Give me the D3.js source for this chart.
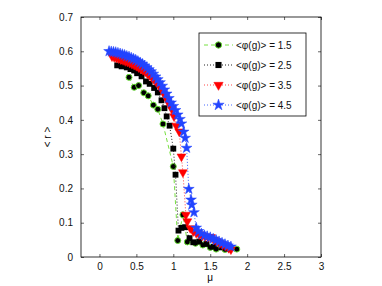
<!DOCTYPE html>
<html><head><meta charset="utf-8">
<script src="https://cdn.jsdelivr.net/npm/d3@7"></script>
<style>
body{margin:0;background:#fff;}
svg{display:block;font-family:"Liberation Sans",Arial,sans-serif;}
</style></head>
<body><svg id="c" width="382" height="286"></svg>
<script>
const xTicks = [0,0.5,1,1.5,2,2.5,3];
const yTicks = [0,0.1,0.2,0.3,0.4,0.5,0.6,0.7];
const xLabel = "μ";
const yLabel = "< r >";
const seriesNames = ["<φ(g)> = 1.5","<φ(g)> = 2.5","<φ(g)> = 3.5","<φ(g)> = 4.5"];

const mu1 = [0.40,0.47,0.53,0.60,0.66,0.73,0.79,0.86,1.00,1.06,1.13,1.19,1.30,1.40,1.50,1.58,1.70,1.86];
const r1  = [0.524,0.495,0.500,0.479,0.470,0.443,0.431,0.388,0.264,0.048,0.123,0.044,0.040,0.035,0.028,0.023,0.022,0.023];

const mu2 = [0.24,0.30,0.37,0.42,0.47,0.51,0.57,0.63,0.68,0.74,0.79,0.84,0.88,0.91,0.95,1.00,1.03,1.07,1.11,1.16,1.22,1.27,1.35,1.45,1.55,1.65,1.75];
const r2  = [0.559,0.556,0.553,0.548,0.544,0.536,0.527,0.512,0.505,0.493,0.480,0.457,0.434,0.410,0.383,0.316,0.240,0.077,0.085,0.087,0.055,0.043,0.045,0.038,0.030,0.028,0.025];

const mu3 = [0.17,0.20,0.23,0.26,0.29,0.32,0.35,0.38,0.41,0.44,0.47,0.50,0.53,0.56,0.59,0.62,0.65,0.68,0.71,0.74,0.77,0.80,0.83,0.86,0.89,0.92,0.95,0.98,1.01,1.04,1.08,1.11,1.13,1.17,1.19,1.23,1.27,1.31,1.35,1.39,1.43,1.47,1.51,1.55,1.59,1.63,1.67,1.71,1.75,1.78];
const r3  = [0.585,0.583,0.581,0.579,0.576,0.574,0.571,0.569,0.566,0.563,0.560,0.557,0.553,0.549,0.545,0.541,0.535,0.530,0.524,0.517,0.510,0.502,0.493,0.482,0.470,0.457,0.445,0.431,0.410,0.383,0.366,0.293,0.247,0.123,0.104,0.084,0.075,0.070,0.066,0.062,0.060,0.058,0.058,0.050,0.045,0.040,0.035,0.032,0.026,0.022];

const mu4 = [0.13,0.16,0.19,0.22,0.25,0.28,0.31,0.34,0.37,0.40,0.43,0.46,0.49,0.52,0.55,0.58,0.61,0.64,0.67,0.70,0.73,0.76,0.79,0.82,0.85,0.88,0.91,0.94,0.97,1.00,1.03,1.06,1.09,1.11,1.14,1.16,1.18,1.21,1.24,1.25,1.28,1.31,1.34,1.38,1.42,1.46,1.50,1.54,1.58,1.62,1.66,1.70,1.74,1.78];
const r4  = [0.600,0.599,0.598,0.597,0.595,0.593,0.591,0.589,0.586,0.584,0.581,0.578,0.575,0.571,0.567,0.563,0.558,0.553,0.547,0.541,0.534,0.526,0.518,0.509,0.499,0.488,0.476,0.463,0.450,0.440,0.428,0.415,0.402,0.389,0.365,0.347,0.318,0.198,0.167,0.152,0.130,0.085,0.075,0.068,0.063,0.060,0.057,0.053,0.049,0.045,0.041,0.037,0.033,0.030];

const L=81, R=321, T=17, B=257;
const svg = d3.select("#c");
const x = d3.scaleLinear().domain([-0.25,3]).range([L,R]);
const y = d3.scaleLinear().domain([0,0.7]).range([B,T]);

const fmt = d => d===0 ? "0" : String(d);
const gx = svg.append("g").attr("transform",`translate(0,${B})`)
  .call(d3.axisBottom(x).tickValues(xTicks).tickSizeInner(-3).tickSizeOuter(0).tickPadding(6).tickFormat(fmt));
const gxt = svg.append("g").attr("transform",`translate(0,${T})`)
  .call(d3.axisTop(x).tickValues(xTicks).tickSizeInner(-3).tickSizeOuter(0).tickFormat(""));
const gy = svg.append("g").attr("transform",`translate(${L},0)`)
  .call(d3.axisLeft(y).tickValues(yTicks).tickSizeInner(-3).tickSizeOuter(0).tickPadding(8).tickFormat(fmt));
const gyr = svg.append("g").attr("transform",`translate(${R},0)`)
  .call(d3.axisRight(y).tickValues(yTicks).tickSizeInner(-3).tickSizeOuter(0).tickFormat(""));
[gx,gxt,gy,gyr].forEach(g=>{
  g.select(".domain").remove();
  g.selectAll("line").attr("stroke","#000").attr("stroke-width",0.6);
  g.selectAll("text").attr("font-size",10).attr("fill","#111").attr("font-family","Liberation Sans, Arial, sans-serif");
});
svg.append("rect").attr("x",L).attr("y",T).attr("width",R-L).attr("height",B-T)
  .attr("fill","none").attr("stroke","#000").attr("stroke-width",0.8);

svg.append("text").attr("x",x(1.5)).attr("y",281).attr("text-anchor","middle")
  .attr("font-size",10).text(xLabel);
svg.append("text").attr("transform",`translate(51,${y(0.35)}) rotate(-90)`).attr("text-anchor","middle")
  .attr("font-size",10).text(yLabel);

const series = [
  {mu:mu1,r:r1,line:"#77e040",dash:"4,3",sym:d3.symbolCircle,size:28,fill:"#000",stroke:"#66dd33",sw:1,rot:0},
  {mu:mu2,r:r2,line:"#222",dash:"1,2",sym:d3.symbolSquare,size:34,fill:"#000",stroke:"none",sw:0,rot:0},
  {mu:mu3,r:r3,line:"#ff4444",dash:"1,2",sym:d3.symbolTriangle,size:34,fill:"#ff0000",stroke:"#ff0000",sw:0.5,rot:180},
  {mu:mu4,r:r4,line:"#4466ff",dash:"1,2",sym:d3.symbolStar,size:36,fill:"#2244ff",stroke:"#2244ff",sw:0.5,rot:0}
];

const line = d3.line().x(d=>x(d[0])).y(d=>y(d[1]));
series.forEach(s=>{
  const pts = s.mu.map((m,i)=>[m,s.r[i]]);
  svg.append("path").attr("d",line(pts)).attr("fill","none").attr("stroke",s.line)
    .attr("stroke-width",1).attr("stroke-dasharray",s.dash);
  svg.append("g").selectAll("path").data(pts).join("path")
    .attr("transform",d=>`translate(${x(d[0])},${y(d[1])}) rotate(${s.rot})`)
    .attr("d",d3.symbol(s.sym,s.size)())
    .attr("fill",s.fill).attr("stroke",s.stroke).attr("stroke-width",s.sw);
});

const lg = svg.append("g");
lg.append("rect").attr("x",199).attr("y",33).attr("width",107).attr("height",83)
  .attr("fill","#fff").attr("stroke","#000").attr("stroke-width",0.8);
series.forEach((s,i)=>{
  const yy = 45 + i*20;
  lg.append("line").attr("x1",204).attr("x2",233).attr("y1",yy).attr("y2",yy)
    .attr("stroke",s.line).attr("stroke-width",1).attr("stroke-dasharray",s.dash);
  lg.append("path").attr("transform",`translate(218.5,${yy}) rotate(${s.rot})`)
    .attr("d",d3.symbol(s.sym,s.size*1.1)()).attr("fill",s.fill).attr("stroke",s.stroke).attr("stroke-width",s.sw);
  lg.append("text").attr("x",236).attr("y",yy+3.5).attr("font-size",10).attr("fill","#111").text(seriesNames[i]);
});
</script></body></html>
